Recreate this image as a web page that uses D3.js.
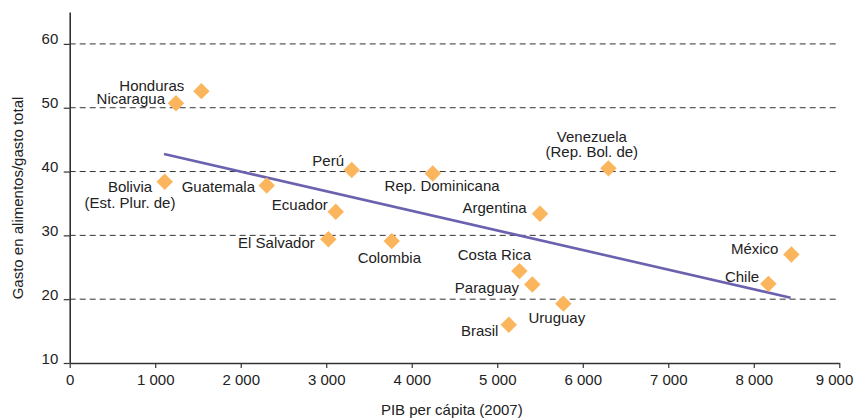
<!DOCTYPE html>
<html><head><meta charset="utf-8">
<script src="https://cdn.jsdelivr.net/npm/d3@7"></script>
<style>
html,body{margin:0;padding:0;background:#fff;}
svg text{font-family:"Liberation Sans",Arial,sans-serif;}
</style></head>
<body><svg id="c" width="855" height="420"></svg>
<script>
const countries = ["Honduras","Nicaragua","Bolivia","Guatemala","Perú","Rep. Dominicana","Ecuador","El Salvador","Colombia","Argentina","Costa Rica","Paraguay","Uruguay","Brasil","Venezuela","México","Chile"];
const labelLines = [["Honduras"],["Nicaragua"],["Bolivia","(Est. Plur. de)"],["Guatemala"],["Perú"],["Rep. Dominicana"],["Ecuador"],["El Salvador"],["Colombia"],["Argentina"],["Costa Rica"],["Paraguay"],["Uruguay"],["Brasil"],["Venezuela","(Rep. Bol. de)"],["México"],["Chile"]];
const gdp = [1540,1243,1111,2304,3298,4246,3111,3025,3766,5500,5259,5410,5773,5135,6300,8440,8171];
const foodShare = [52.6,50.7,38.4,37.8,40.25,39.7,33.7,29.4,29.1,33.4,24.4,22.3,19.3,16.0,40.5,27.0,22.4];
const trendX = [1103,8431];
const trendY = [42.75,20.23];
const xTicks = [0,1000,2000,3000,4000,5000,6000,7000,8000,9000];
const xTickLabels = ["0","1 000","2 000","3 000","4 000","5 000","6 000","7 000","8 000","9 000"];
const yTicks = [10,20,30,40,50,60];
const yTickLabels = ["10","20","30","40","50","60"];
const gridValues = [20,30,40,50,60];

// label layout (offsets from marker, anchor)
const labelLayout = {
 "Honduras":{dx:-17,dy:-0.3,a:"end"},
 "Nicaragua":{dx:-11,dy:1,a:"end"},
 "Bolivia":{dx:-34.7,dy:10.3,a:"middle"},
 "Guatemala":{dx:-11.7,dy:6.6,a:"end"},
 "Perú":{dx:-7.7,dy:-4.3,a:"end"},
 "Rep. Dominicana":{dx:9.3,dy:18,a:"middle"},
 "Ecuador":{dx:-8,dy:-1.7,a:"end"},
 "El Salvador":{dx:-13.6,dy:9.3,a:"end"},
 "Colombia":{dx:-2.4,dy:21.7,a:"middle"},
 "Argentina":{dx:-13.3,dy:-0.7,a:"end"},
 "Costa Rica":{dx:-25,dy:-11,a:"middle"},
 "Paraguay":{dx:-13.3,dy:8.4,a:"end"},
 "Uruguay":{dx:-6.5,dy:19,a:"middle"},
 "Brasil":{dx:-10.4,dy:11.7,a:"end"},
 "Venezuela":{dx:-16.6,dy:-26.6,a:"middle"},
 "México":{dx:-13,dy:-1,a:"end"},
 "Chile":{dx:-9.3,dy:-2.3,a:"end"}
};

const svg = d3.select("#c");
const x = d3.scaleLinear().domain([0,9000]).range([69.7,839.3]);
const y = d3.scaleLinear().domain([10,65]).range([363,12]);
const ink = "#222";

// grid
svg.append("g").selectAll("line").data(gridValues).join("line")
  .attr("x1",x(0)).attr("x2",x(9000))
  .attr("y1",d=>y(d)).attr("y2",d=>y(d))
  .attr("stroke","#333").attr("stroke-width",1).attr("stroke-dasharray","6,4");

// axes
const xAxis = svg.append("g").attr("transform",`translate(0,${y(10)})`)
  .call(d3.axisBottom(x).tickValues(xTicks).tickFormat((d,i)=>xTickLabels[i]).tickSize(5).tickSizeOuter(0).tickPadding(6.3));
const yAxis = svg.append("g").attr("transform",`translate(${x(0)},0)`)
  .call(d3.axisLeft(y).tickValues(yTicks).tickFormat((d,i)=>yTickLabels[i]).tickSize(6).tickSizeOuter(0).tickPadding(5.4));
[xAxis,yAxis].forEach(g=>{
  g.select(".domain").attr("stroke","#333").attr("stroke-width",1.6);
  g.selectAll(".tick line").attr("stroke","#333").attr("stroke-width",1.2);
  g.selectAll("text").attr("font-size",15).attr("fill",ink).attr("font-family","Liberation Sans, Arial, sans-serif");
});
yAxis.selectAll("text").attr("dy","0");
// keep the last x tick label inside the frame, as in the reference
xAxis.selectAll(".tick text").filter(d=>d===xTicks[xTicks.length-1])
  .attr("text-anchor","end").attr("x",13.5);

// axis titles
svg.append("text").attr("x",451.8).attr("y",415).attr("text-anchor","middle")
  .attr("font-size",15).attr("fill",ink).text("PIB per cápita (2007)");
svg.append("text").attr("transform","translate(23,198) rotate(-90)").attr("text-anchor","middle")
  .attr("font-size",15).attr("fill",ink).text("Gasto en alimentos/gasto total");

// trend line
svg.append("line")
  .attr("x1",x(trendX[0])).attr("y1",y(trendY[0]))
  .attr("x2",x(trendX[1])).attr("y2",y(trendY[1]))
  .attr("stroke","#6a62ae").attr("stroke-width",2.6);

// points
const sym = d3.symbol().type(d3.symbolSquare).size(135);
const pts = countries.map((c,i)=>({c,lines:labelLines[i],gx:gdp[i],fy:foodShare[i]}));
svg.append("g").selectAll("path").data(pts).join("path")
  .attr("d",sym)
  .attr("transform",d=>`translate(${x(d.gx)},${y(d.fy)}) rotate(45)`)
  .attr("fill","#fbb55c");

// labels
const lab = svg.append("g").selectAll("text").data(pts).join("text")
  .attr("font-size",15).attr("fill",ink)
  .attr("text-anchor",d=>labelLayout[d.c].a)
  .attr("x",d=>x(d.gx)+labelLayout[d.c].dx)
  .attr("y",d=>y(d.fy)+labelLayout[d.c].dy);
lab.selectAll("tspan").data(d=>d.lines.map((t,j)=>({t,j,d}))).join("tspan")
  .attr("x",e=>x(e.d.gx)+labelLayout[e.d.c].dx)
  .attr("dy",e=>e.j===0?0:15.5)
  .text(e=>e.t);
</script></body></html>
